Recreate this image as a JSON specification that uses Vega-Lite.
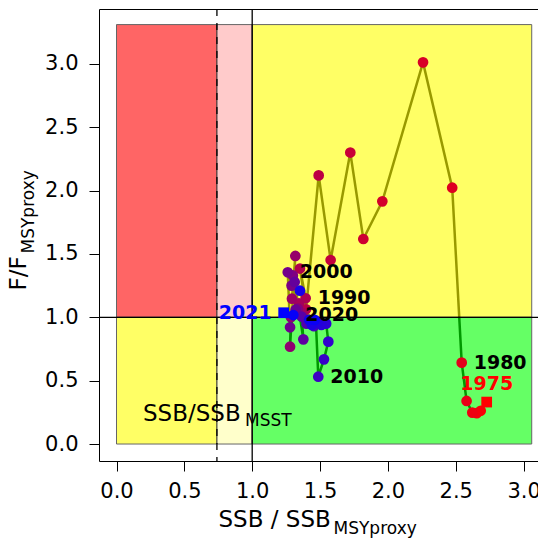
{
  "$schema": "https://vega.github.io/schema/vega-lite/v6.json",
  "width": 441,
  "height": 452,
  "autosize": {"type": "none"},
  "padding": {"left": 99, "top": 9, "right": 0, "bottom": 77},
  "background": "white",
  "config": {"view": {"stroke": "black", "strokeWidth": 1}, "font": "DejaVu Sans"},
  "datasets": {
    "traj": [
      {"year": 1975, "x": 2.728, "y": 0.331},
      {"year": 1976, "x": 2.684, "y": 0.262},
      {"year": 1977, "x": 2.655, "y": 0.243},
      {"year": 1978, "x": 2.622, "y": 0.248},
      {"year": 1979, "x": 2.58, "y": 0.34},
      {"year": 1980, "x": 2.544, "y": 0.642},
      {"year": 1981, "x": 2.474, "y": 2.023},
      {"year": 1982, "x": 2.259, "y": 3.012},
      {"year": 1983, "x": 1.959, "y": 1.915},
      {"year": 1984, "x": 1.819, "y": 1.618},
      {"year": 1985, "x": 1.723, "y": 2.3},
      {"year": 1986, "x": 1.578, "y": 1.452},
      {"year": 1987, "x": 1.49, "y": 2.12},
      {"year": 1988, "x": 1.397, "y": 1.063},
      {"year": 1989, "x": 1.352, "y": 1.385},
      {"year": 1990, "x": 1.394, "y": 1.15},
      {"year": 1991, "x": 1.345, "y": 1.11},
      {"year": 1992, "x": 1.372, "y": 1.035},
      {"year": 1993, "x": 1.293, "y": 1.147},
      {"year": 1994, "x": 1.318, "y": 1.484},
      {"year": 1995, "x": 1.279, "y": 0.768},
      {"year": 1996, "x": 1.285, "y": 1.0},
      {"year": 1997, "x": 1.337, "y": 1.068},
      {"year": 1998, "x": 1.3, "y": 1.33},
      {"year": 1999, "x": 1.29, "y": 1.25},
      {"year": 2000, "x": 1.262, "y": 1.355},
      {"year": 2001, "x": 1.279, "y": 0.921},
      {"year": 2002, "x": 1.32, "y": 1.06},
      {"year": 2003, "x": 1.313, "y": 1.279},
      {"year": 2004, "x": 1.377, "y": 0.826},
      {"year": 2005, "x": 1.365, "y": 1.005},
      {"year": 2006, "x": 1.4, "y": 0.95},
      {"year": 2007, "x": 1.43, "y": 0.96},
      {"year": 2008, "x": 1.455, "y": 0.93},
      {"year": 2009, "x": 1.47, "y": 0.95},
      {"year": 2010, "x": 1.487, "y": 0.531},
      {"year": 2011, "x": 1.529, "y": 0.668},
      {"year": 2012, "x": 1.561, "y": 0.808},
      {"year": 2013, "x": 1.545, "y": 0.95},
      {"year": 2014, "x": 1.51, "y": 0.94},
      {"year": 2015, "x": 1.48, "y": 0.96},
      {"year": 2016, "x": 1.44, "y": 0.94},
      {"year": 2017, "x": 1.352, "y": 1.21},
      {"year": 2018, "x": 1.42, "y": 0.98},
      {"year": 2019, "x": 1.46, "y": 0.98},
      {"year": 2020, "x": 1.303, "y": 1.018},
      {"year": 2021, "x": 1.232, "y": 1.036}
    ],
    "zones": [
      {"zone": "overfished_overfishing", "x1": 0, "x2": 0.74, "y1": 1, "y2": 3.31},
      {"zone": "between_overfishing", "x1": 0.74, "x2": 1, "y1": 1, "y2": 3.31},
      {"zone": "overfished", "x1": 0, "x2": 0.74, "y1": 0, "y2": 1},
      {"zone": "between", "x1": 0.74, "x2": 1, "y1": 0, "y2": 1},
      {"zone": "overfishing", "x1": 1, "x2": 3.06, "y1": 1, "y2": 3.31},
      {"zone": "healthy", "x1": 1, "x2": 3.06, "y1": 0, "y2": 1}
    ],
    "limits": [{"msst": 0.74, "msy": 1, "fmsy": 1}],
    "notes": [
      {"part": "main", "label": "SSB/SSB", "x": 0.195, "y": 0.18},
      {"part": "sub", "label": "MSST", "x": 0.947, "y": 0.142}
    ]
  },
  "resolve": {
    "scale": {"color": "independent"},
    "axis": {"x": "independent", "y": "independent"}
  },
  "layer": [
    {
      "data": {"name": "traj"},
      "mark": {"type": "line", "color": "black", "strokeWidth": 2.5},
      "encoding": {
        "x": {
          "field": "x", "type": "quantitative",
          "scale": {"domain": [-0.129, 3.121], "nice": false, "zero": false},
          "axis": {
            "orient": "bottom", "values": [0, 0.5, 1, 1.5, 2, 2.5, 3], "format": ".1f",
            "labelFontSize": 21, "labelFont": "DejaVu Sans", "labelColor": "black",
            "labelFlush": false, "labelOverlap": false,
            "tickColor": "black", "tickSize": 10, "tickWidth": 1, "labelPadding": 9,
            "domain": false, "grid": false,
            "title": "SSB / SSB", "titleFont": "DejaVu Sans", "titleFontSize": 23,
            "titleFontWeight": "normal", "titleColor": "black",
            "titleX": 119, "titleY": 65, "titleAlign": "left", "titleBaseline": "alphabetic", "titleAngle": 0
          }
        },
        "y": {
          "field": "y", "type": "quantitative",
          "scale": {"domain": [-0.134, 3.433], "nice": false, "zero": false},
          "axis": {
            "orient": "left", "values": [0, 0.5, 1, 1.5, 2, 2.5, 3], "format": ".1f",
            "labelFontSize": 21, "labelFont": "DejaVu Sans", "labelColor": "black",
            "labelFlush": false, "labelOverlap": false,
            "tickColor": "black", "tickSize": 10, "tickWidth": 1, "labelPadding": 11,
            "domain": false, "grid": false,
            "title": "F/F", "titleFont": "DejaVu Sans", "titleFontSize": 23,
            "titleFontWeight": "normal", "titleColor": "black",
            "titleX": -74, "titleY": 281, "titleAlign": "left", "titleBaseline": "alphabetic", "titleAngle": 270
          }
        },
        "order": {"field": "year", "type": "quantitative"}
      }
    },
    {
      "data": {"name": "zones"},
      "mark": {"type": "rect", "opacity": 0.6, "stroke": "black", "strokeWidth": 1},
      "encoding": {
        "x": {"field": "x1", "type": "quantitative", "axis": null},
        "x2": {"field": "x2"},
        "y": {"field": "y1", "type": "quantitative", "axis": null},
        "y2": {"field": "y2"},
        "color": {
          "field": "zone", "type": "nominal", "legend": null,
          "scale": {
            "domain": ["overfished_overfishing", "between_overfishing", "overfished", "between", "overfishing", "healthy"],
            "range": ["#ff0000", "#ffaaaa", "#ffff00", "#ffffaa", "#ffff00", "#00ff00"]
          }
        }
      }
    },
    {
      "data": {"name": "limits"},
      "mark": {"type": "rule", "color": "black", "strokeWidth": 1.3, "strokeDash": [7, 7]},
      "encoding": {"x": {"field": "msst", "type": "quantitative", "axis": null}}
    },
    {
      "data": {"name": "limits"},
      "mark": {"type": "rule", "color": "black", "strokeWidth": 1.3},
      "encoding": {"x": {"field": "msy", "type": "quantitative", "axis": null}}
    },
    {
      "data": {"name": "limits"},
      "mark": {"type": "rule", "color": "black", "strokeWidth": 1.3},
      "encoding": {"y": {"field": "fmsy", "type": "quantitative", "axis": null}}
    },
    {
      "data": {"name": "traj"},
      "mark": {"type": "point", "filled": true, "size": 115, "opacity": 1},
      "encoding": {
        "x": {"field": "x", "type": "quantitative", "axis": null},
        "y": {"field": "y", "type": "quantitative", "axis": null},
        "color": {
          "field": "year", "type": "quantitative", "legend": null,
          "scale": {"domain": [1975, 2021], "range": ["#ff0000", "#0000ff"], "interpolate": "rgb"}
        },
        "shape": {
          "condition": {"test": "datum.year == 1975 || datum.year == 2021", "value": "square"},
          "value": "circle"
        }
      }
    },
    {
      "data": {"name": "traj"},
      "transform": [{"filter": {"field": "year", "oneOf": [1980, 1990, 2000, 2010, 2020]}}],
      "mark": {"type": "text", "align": "left", "baseline": "middle", "dx": 12, "fontSize": 19, "fontWeight": "bold", "color": "black", "font": "DejaVu Sans"},
      "encoding": {
        "x": {"field": "x", "type": "quantitative", "axis": null},
        "y": {"field": "y", "type": "quantitative", "axis": null},
        "text": {"field": "year", "type": "nominal"}
      }
    },
    {
      "data": {"name": "traj"},
      "transform": [{"filter": {"field": "year", "equal": 1975}}],
      "mark": {"type": "text", "align": "center", "baseline": "alphabetic", "dy": -12, "fontSize": 19, "fontWeight": "bold", "color": "#ff0000", "font": "DejaVu Sans"},
      "encoding": {
        "x": {"field": "x", "type": "quantitative", "axis": null},
        "y": {"field": "y", "type": "quantitative", "axis": null},
        "text": {"field": "year", "type": "nominal"}
      }
    },
    {
      "data": {"name": "traj"},
      "transform": [{"filter": {"field": "year", "equal": 2021}}],
      "mark": {"type": "text", "align": "right", "baseline": "middle", "dx": -12, "fontSize": 19, "fontWeight": "bold", "color": "#0000ff", "font": "DejaVu Sans"},
      "encoding": {
        "x": {"field": "x", "type": "quantitative", "axis": null},
        "y": {"field": "y", "type": "quantitative", "axis": null},
        "text": {"field": "year", "type": "nominal"}
      }
    },
    {
      "data": {"name": "notes"},
      "transform": [{"filter": {"field": "part", "equal": "main"}}],
      "mark": {"type": "text", "align": "left", "baseline": "alphabetic", "fontSize": 23, "color": "black", "font": "DejaVu Sans"},
      "encoding": {
        "x": {"field": "x", "type": "quantitative", "axis": null},
        "y": {"field": "y", "type": "quantitative", "axis": null},
        "text": {"field": "label", "type": "nominal"}
      }
    },
    {
      "data": {"name": "notes"},
      "transform": [{"filter": {"field": "part", "equal": "sub"}}],
      "mark": {"type": "text", "align": "left", "baseline": "alphabetic", "fontSize": 17, "color": "black", "font": "DejaVu Sans"},
      "encoding": {
        "x": {
          "field": "x", "type": "quantitative",
          "axis": {
            "orient": "bottom", "labels": false, "ticks": false, "domain": false, "grid": false,
            "title": "MSYproxy", "titleFont": "DejaVu Sans", "titleFontSize": 17,
            "titleFontWeight": "normal", "titleColor": "black",
            "titleX": 234, "titleY": 72, "titleAlign": "left", "titleBaseline": "alphabetic", "titleAngle": 0
          }
        },
        "y": {
          "field": "y", "type": "quantitative",
          "axis": {
            "orient": "left", "labels": false, "ticks": false, "domain": false, "grid": false,
            "title": "MSYproxy", "titleFont": "DejaVu Sans", "titleFontSize": 17,
            "titleFontWeight": "normal", "titleColor": "black",
            "titleX": -66, "titleY": 244, "titleAlign": "left", "titleBaseline": "alphabetic", "titleAngle": 270
          }
        },
        "text": {"field": "label", "type": "nominal"}
      }
    }
  ]
}
